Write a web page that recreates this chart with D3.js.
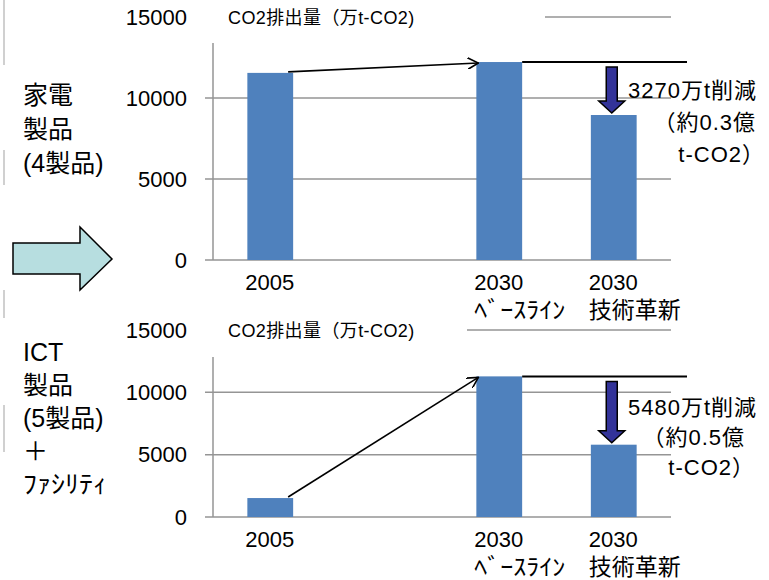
<!DOCTYPE html>
<html>
<head>
<meta charset="utf-8">
<script src="https://cdn.jsdelivr.net/npm/d3@7"></script>
<style>
  body { margin: 0; background: #fff; }
  text { font-family: "Liberation Sans", Arial, "Noto Sans CJK JP", sans-serif; fill: #000; }
</style>
</head>
<body>
<svg id="chart" width="769" height="580"></svg>
<script>
// categories on the x axis (one empty slot between 2005 and 2030)
const categories = ["2005", "gap", "2030base", "2030tech"]
const catLabels = [["2005"], [], ["2030", "ﾍﾞｰｽﾗｲﾝ"], ["2030", "技術革新"]]

// CO2 emissions, 10k t-CO2
const applianceValues = [11550, null, 12220, 8950]
const ictValues = [1520, null, 11280, 5800]

const yTicks = [0, 5000, 10000, 15000]
const unitTitle = "CO2排出量（万t-CO2)"

const applianceSide = ["家電", "製品", "(4製品)"]
const ictSide = ["ICT", "製品", "(5製品)", "＋", "ﾌｧｼﾘﾃｨ"]

const applianceNote = ["3270万t削減", "（約0.3億", "t-CO2）"]
const ictNote = ["5480万t削減", "（約0.5億", "t-CO2）"]

const svg = d3.select("#chart")

// marker for the thin black trend arrows
svg.append("defs").append("marker")
    .attr("id", "open")
    .attr("viewBox", "0 0 12 12")
    .attr("refX", 11).attr("refY", 6)
    .attr("markerWidth", 12).attr("markerHeight", 12)
    .attr("markerUnits", "userSpaceOnUse")
    .attr("orient", "auto")
    .append("path")
    .attr("d", "M0,0 L11,6 L0,12")
    .attr("fill", "none")
    .attr("stroke", "#000")
    .attr("stroke-width", 1.6)

// half-width katakana is drawn wider in the original
const halfWidth = {"ﾍﾞｰｽﾗｲﾝ": 91, "ﾌｧｼﾘﾃｨ": 84}

function stretch(sel, t) {
    if(halfWidth[t])
        sel.attr("textLength", halfWidth[t]).attr("lengthAdjust", "spacingAndGlyphs")
}

/**
 * Draws one bar panel.
 */
function panel(values, opt) {
    const x = d3.scaleBand().domain(categories).range([213, 671]).paddingInner(0.6).paddingOuter(0.3)
    const y = d3.scaleLinear().domain([0, 15000]).range([opt.bottom, opt.top])
    const g = svg.append("g")

    // gridlines with small ticks to the left
    g.selectAll(".grid").data(yTicks).join("line")
        .attr("x1", 205).attr("x2", 671)
        .attr("y1", d => y(d)).attr("y2", d => y(d))
        .attr("stroke", "#959595").attr("stroke-width", 1.5)

    g.append("line")
        .attr("x1", 213).attr("x2", 213)
        .attr("y1", opt.top).attr("y2", opt.bottom)
        .attr("stroke", "#959595").attr("stroke-width", 1.5)

    // white box under the unit title hides the top of the grid
    g.append("rect")
        .attr("x", 198).attr("y", opt.top - 17)
        .attr("width", opt.boxW).attr("height", opt.axisTop - opt.top + 17)
        .attr("fill", "#fff")

    g.append("text")
        .attr("x", 228).attr("y", y(15000) + 1)
        .attr("dy", "0.35em")
        .style("font-size", "18px")
        .style("letter-spacing", "0.4px")
        .text(unitTitle)

    g.selectAll(".ytick").data(yTicks).join("text")
        .attr("x", 187).attr("y", d => y(d))
        .attr("dy", "0.35em")
        .attr("text-anchor", "end")
        .style("font-size", "22px")
        .text(d => d)

    // bars
    const data = categories.map((c, i) => ({c: c, v: values[i], lab: catLabels[i]}))
    g.selectAll(".bar").data(data.filter(d => d.v !== null)).join("rect")
        .attr("x", d => x(d.c)).attr("width", x.bandwidth())
        .attr("y", d => y(d.v)).attr("height", d => y(0) - y(d.v))
        .attr("fill", "#4f81bd")

    // category labels (left aligned block under each bar)
    data.forEach(d => {
        d.lab.forEach((t, j) => {
            const lab = g.append("text")
                .attr("x", x(d.c) + x.bandwidth() / 2 - 25)
                .attr("y", y(0) + 22 + j * 28)
                .attr("dy", "0.35em")
                .style("font-size", j === 0 ? "22px" : "23px")
                .text(t)
            stretch(lab, t)
        })
    })

    // trend arrow from 2005 to the 2030 baseline
    const base = values[2], tech = values[3]
    g.append("line")
        .attr("x1", x("2005") + x.bandwidth() - 5).attr("y1", y(values[0]) - 1)
        .attr("x2", x("2030base") + 2).attr("y2", y(base) + 1)
        .attr("stroke", "#000").attr("stroke-width", 1.6)
        .attr("marker-end", "url(#open)")

    // baseline level line
    g.append("line")
        .attr("x1", x("2030base") + x.bandwidth()).attr("x2", 687)
        .attr("y1", y(base)).attr("y2", y(base))
        .attr("stroke", "#000").attr("stroke-width", 2)

    // reduction arrow
    const cx = x("2030tech") + x.bandwidth() / 2 - 2
    const top = y(base) + 5, tip = y(tech) - 2
    const hw = 13, sw = 5.5, hh = 12
    g.append("path")
        .attr("d", `M${cx - sw},${top} L${cx + sw},${top} L${cx + sw},${tip - hh} L${cx + hw},${tip - hh}
                    L${cx},${tip} L${cx - hw},${tip - hh} L${cx - sw},${tip - hh} Z`)
        .attr("fill", "#333399").attr("stroke", "#000").attr("stroke-width", 1.5)

    opt.note.forEach((t, j) => {
        g.append("text")
            .attr("x", opt.noteX[j]).attr("y", opt.noteY + j * opt.noteGap)
            .attr("dy", "0.35em")
            .attr("text-anchor", "end")
            .style("font-size", "22px")
            .style("letter-spacing", "1px")
            .text(t)
    })

    opt.side.forEach((t, j) => {
        const lab = g.append("text")
            .attr("x", 23).attr("y", opt.sideY + j * opt.sideGap)
            .attr("dy", "0.35em")
            .style("font-size", "25px")
            .text(t)
        stretch(lab, t)
    })
}

panel(applianceValues, {top: 17, bottom: 260, axisTop: 43, boxW: 347,
    note: applianceNote, noteX: [757, 756, 765], noteY: 90, noteGap: 32,
    side: applianceSide, sideY: 95, sideGap: 34})
panel(ictValues, {top: 330, bottom: 517, axisTop: 357, boxW: 269,
    note: ictNote, noteX: [757, 745, 755], noteY: 407, noteGap: 30,
    side: ictSide, sideY: 352, sideGap: 33})

// block arrow between the panels
svg.append("path")
    .attr("d", "M13,243 L80,243 L80,227 L112,259 L80,290 L80,274 L13,274 Z")
    .attr("fill", "#b7dee0").attr("stroke", "#000").attr("stroke-width", 1.5)

// faint slide edges on the left
svg.selectAll(".edge").data([[0, 65], [150, 185], [290, 318], [405, 452]]).join("line")
    .attr("x1", 4).attr("x2", 4)
    .attr("y1", d => d[0]).attr("y2", d => d[1])
    .attr("stroke", "#d0d0d0").attr("stroke-width", 2)
</script>
</body>
</html>
